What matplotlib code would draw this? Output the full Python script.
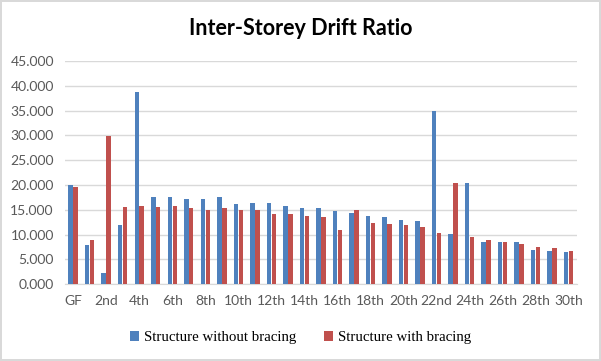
import matplotlib
matplotlib.use("Agg")
import matplotlib.pyplot as plt
import numpy as np

# storey labels
storeys = ["GF"] + [f"{i}{'st' if i % 10 == 1 and i != 11 else 'nd' if i % 10 == 2 and i != 12 else 'rd' if i % 10 == 3 and i != 13 else 'th'}"
                    for i in range(1, 31)]

without_bracing = [20.0, 7.9, 2.3, 12.0, 38.8, 17.6, 17.6, 17.2, 17.2, 17.6,
                   16.2, 16.4, 16.4, 15.8, 15.4, 15.4, 14.8, 14.4, 13.8, 13.6,
                   13.0, 12.8, 34.9, 10.1, 20.4, 8.5, 8.5, 8.5, 6.9, 6.7, 6.5]
with_bracing = [19.6, 8.9, 29.9, 15.6, 15.8, 15.6, 15.8, 15.4, 15.0, 15.4,
                15.0, 15.0, 14.2, 14.2, 13.8, 13.6, 11.0, 15.0, 12.4, 12.2,
                12.0, 11.6, 10.3, 20.4, 9.5, 8.9, 8.5, 8.1, 7.5, 7.3, 6.7]

blue = "#4F81BD"
red = "#C0504D"

fig = plt.figure(figsize=(6.01, 3.61), dpi=100)
fig.patch.set_edgecolor("#D9D9D9")
fig.patch.set_linewidth(1.5)
ax = fig.add_axes([0.108, 0.2125, 0.852, 0.6185])

x = np.arange(len(storeys))
w = 0.27
ax.bar(x - 0.15, without_bracing, w, color=blue, label="Structure without bracing", zorder=3)
ax.bar(x + 0.15, with_bracing, w, color=red, label="Structure with bracing", zorder=3)

ax.set_xlim(-0.5, len(storeys) - 0.5)
ax.set_ylim(0, 45)
ax.set_yticks(np.arange(0, 46, 5))
ax.set_yticklabels([f"{v:.3f}" for v in np.arange(0, 46, 5)])
ax.set_xticks(x[::2])
ax.set_xticklabels(storeys[::2])

ax.grid(axis="y", color="#D9D9D9", linewidth=1, zorder=0)
for s in ["top", "right", "left"]:
    ax.spines[s].set_visible(False)
ax.spines["bottom"].set_color("#D9D9D9")
ax.tick_params(axis="both", length=0, labelsize=10, labelcolor="#595959", pad=8)
for lbl in ax.get_xticklabels() + ax.get_yticklabels():
    lbl.set_fontfamily("Lato")

fig.text(0.5, 0.92, "Inter-Storey Drift Ratio", ha="center", va="center",
         fontsize=15.5, fontweight="bold", fontfamily="Lato")

fig.legend(loc="center", bbox_to_anchor=(0.5, 0.065), ncol=2, frameon=False,
           prop={"family": "Liberation Serif", "size": 10.7},
           handlelength=0.6, handleheight=0.6, handletextpad=0.3, columnspacing=1.9)

fig.savefig("out.png", dpi=100)
